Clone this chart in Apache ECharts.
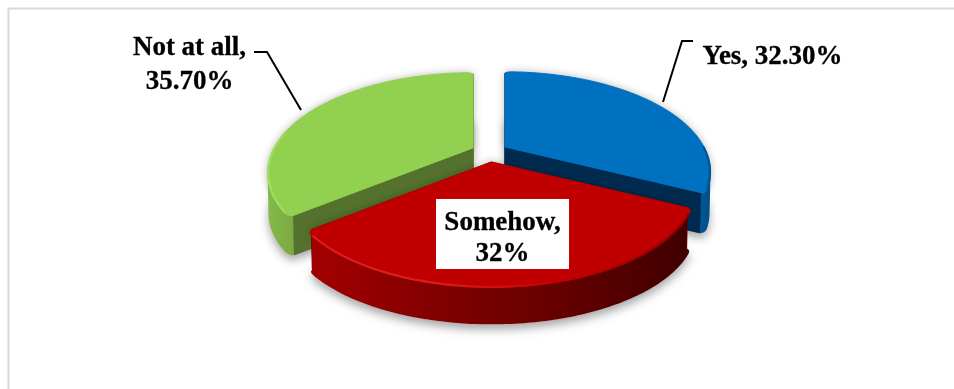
<!DOCTYPE html>
<html>
<head>
<meta charset="utf-8">
<style>html,body{margin:0;padding:0;background:#fff}#c{width:954px;height:389px}</style>
<script src="https://cdn.jsdelivr.net/npm/echarts@6/dist/echarts.min.js"></script>
</head>
<body>
<div id="c"></div>
<script>
const categories = ['Yes', 'Somehow', 'Not at all'];
const values = [32.3, 32, 35.7];
const valueLabels = ['32.30%', '32%', '35.70%'];

// layout of the perspective disc
const P = {cx: 489.5, cy: 152.2, ex: 18.3, ey: 9.9, F: 199, G: 94, k: 0.25, H: 42, lowX: 0.995, lowY: 0.96, corner: 0.02, cornerSpan: 0.05};
const LG = (x1, x2, stops) => new echarts.graphic.LinearGradient(x1, 0, x2, 0,
  stops.map((c, i) => ({offset: i / (stops.length - 1), color: c})), true);
const SKIN = [
  {top: '#0070C0', inner: '#002B4F',
   wall: () => LG(680, 715, ['#0066b0', '#005a9c', '#00497f']),
   rim: () => LG(640, 712, ['#0070C0', '#0068b2', '#004f88'])},
  {top: '#C00000', inner: '#5c0000',
   wall: () => LG(312, 690, ['#a20000', '#820000', '#640000', '#3f0000']),
   rim: () => LG(312, 690, ['#dc2020', '#de2020', '#c00000', '#820000'])},
  {top: '#92D050', inner: '#54722D',
   wall: () => LG(265, 295, ['#86bd4a', '#7fb246', '#7aa842']),
   rim: () => LG(265, 300, ['#a4e260', '#a0dc5c', '#96d452'])}
];
const LABELS = [
  {x: 772.5, y: 57, lh: 33, line: [[693, 41], [682, 41], [663, 102]]},
  {x: 502.5, y: 239, lh: 31, box: [436, 199, 133, 70]},
  {x: 189.5, y: 65.5, lh: 34, line: [[254, 52], [267, 52], [301, 110]]}
];
const total = values.reduce((a, b) => a + b, 0);
const toRad = v => v / total * Math.PI * 2;

function pt(theta, r, ax, ay, low) {
  const u = r * Math.sin(theta), v = r * Math.cos(theta), w = 1 + P.k * v;
  const fx = low ? P.F * P.lowX : P.F, fy = low ? P.G * P.lowY : P.G;
  return [ax + fx * u / w, ay - fy * v / w + (low ? P.H : 0)];
}
// rim radius pulled in close to the radial edges so that corners are rounded
function rimR(theta, a0, a1) {
  const d = Math.min(theta - a0, a1 - theta);
  if (d >= P.cornerSpan) return 1;
  const q = 1 - d / P.cornerSpan;
  return 1 - P.corner * (1 - Math.sqrt(1 - q * q));
}
function arc(a0, a1, r, ax, ay, low, lim0, lim1) {
  const n = 120, out = [];
  const from = lim0 === undefined ? a0 : lim0, to = lim1 === undefined ? a1 : lim1;
  for (let i = 0; i <= n; i++) {
    const t = from + (to - from) * i / n;
    out.push(pt(t, r * rimR(t, a0, a1), ax, ay, low));
  }
  return out;
}
function renderItem(params, api) {
  const i = params.dataIndex;
  let before = 0;
  for (let j = 0; j < i; j++) before += values[j];
  const a0 = toRad(before), a1 = toRad(before + api.value(0)), mid = (a0 + a1) / 2;
  const ax = P.cx + P.ex * Math.sin(mid), ay = P.cy - P.ey * Math.cos(mid);
  const front = a0 < Math.PI && a1 > Math.PI ? 50 : 0;
  const s = SKIN[i];
  const apexLow = [ax, ay + P.H], kids = [];
  const topPoly = [[ax, ay]].concat(arc(a0, a1, 1, ax, ay, false));
  const lowArc = arc(a0, a1, 1, ax, ay, true);
  const poly = (points, style, z2) => kids.push({type: 'polygon', shape: {points}, style, z2: front + z2, silent: true});
  // soft cast shadow
  poly([apexLow].concat(lowArc), {fill: '#ddd', shadowBlur: 10, shadowColor: 'rgba(0,0,0,0.35)', shadowOffsetY: 5}, 0);
  poly(topPoly, {fill: '#ddd', shadowBlur: 8, shadowColor: 'rgba(0,0,0,0.3)'}, 0);
  // flat radial faces
  const edge = 1 - P.corner;
  [a0, a1].forEach(a => {
    const t = pt(a, edge, ax, ay, false), b = pt(a, edge, ax, ay, true);
    poly([[ax, ay], t, b, apexLow], {fill: s.inner, stroke: s.inner, lineWidth: 1, lineJoin: 'round'}, 1);
  });
  // curved outer wall: only the part facing the viewer, up to the silhouette tangents
  const sil = Math.acos(-P.k);
  const w0 = Math.max(a0, sil), w1 = Math.min(a1, Math.PI * 2 - sil);
  poly(arc(a0, a1, 1, ax, ay, false, w0, w1).concat(arc(a0, a1, 1, ax, ay, true, w0, w1).reverse()), {fill: s.wall()}, 2);
  // top face
  poly(topPoly, {fill: s.top, stroke: s.top, lineWidth: 1, lineJoin: 'round'}, 3);
  // bevel only on the part of the rim that faces the viewer
  const lim0 = Math.max(a0 + P.cornerSpan, Math.PI * 0.5), lim1 = Math.min(a1 - P.cornerSpan, Math.PI * 1.55);
  kids.push({type: 'polyline', shape: {points: arc(a0, a1, 0.997, ax, ay, false, lim0, lim1)},
    style: {fill: null, stroke: s.rim(), lineWidth: 2.2, lineCap: 'round', opacity: 0.9}, z2: front + 4, silent: true});

  const L = LABELS[i];
  const labelZ = 100;
  if (L.line) kids.push({type: 'polyline', shape: {points: L.line},
    style: {fill: null, stroke: '#000', lineWidth: 2}, z2: labelZ, silent: true});
  if (L.box) kids.push({type: 'rect', shape: {x: L.box[0], y: L.box[1], width: L.box[2], height: L.box[3]},
    style: {fill: '#fff'}, z2: labelZ, silent: true});
  const text = i === 0 ? categories[i] + ', ' + valueLabels[i] : categories[i] + ',\n' + valueLabels[i];
  kids.push({type: 'text', z2: labelZ + 1, silent: true, style: {
    text, x: L.x, y: L.y, align: 'center', verticalAlign: 'middle', fill: '#000', stroke: '#000', lineWidth: 0.3,
    fontFamily: '"Liberation Serif", "Times New Roman", serif', fontWeight: 'bold', fontSize: 27, lineHeight: L.lh}});
  return {type: 'group', children: kids};
}

const chart = echarts.init(document.getElementById('c'));
chart.setOption({
  animation: false,
  backgroundColor: '#fff',
  graphic: [
    {type: 'line', shape: {x1: 8.5, y1: 8, x2: 8.5, y2: 389}, style: {stroke: '#D9D9D9', lineWidth: 2}, silent: true},
    {type: 'line', shape: {x1: 8, y1: 8.5, x2: 954, y2: 8.5}, style: {stroke: '#D9D9D9', lineWidth: 2}, silent: true}
  ],
  series: [{
    type: 'custom',
    coordinateSystem: 'none',
    renderItem,
    data: categories.map((name, i) => ({name, value: [values[i]]}))
  }]
});
</script>
</body>
</html>
